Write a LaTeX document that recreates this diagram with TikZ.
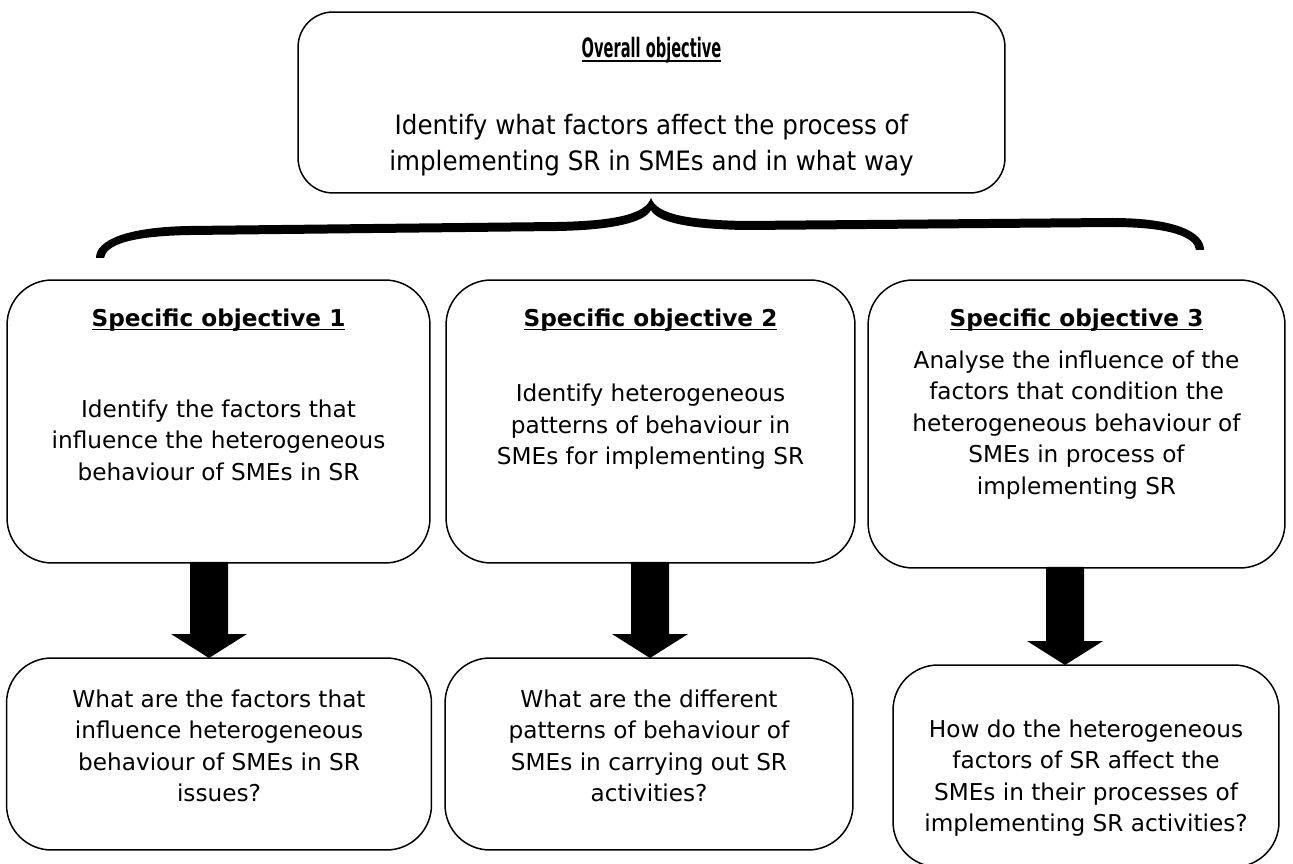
\documentclass[tikz,border=0pt]{standalone}
\usepackage{graphicx}
\usepackage{fontspec}
\setmainfont{DejaVu Sans}
\usetikzlibrary{calc}

% underline set close to the baseline, as in the headings
\newcommand{\headline}[1]{\setbox0\hbox{\bfseries #1}\rlap{\rule[-2.3pt]{\wd0}{0.85pt}}\box0}

% thick block arrow from the bottom of one box to the top of the next
% #1 = upper box, #2 = lower box, #3 = coordinate giving the arrow's x
\newcommand{\blockarrow}[3]{%
  \fill[black]
    ($(#1.south -| #3)+(-19,-1)$) --
    ($(#2.north -| #3)+(-19,-24)$) --
    ($(#2.north -| #3)+(-38,-24)$) --
    (#2.north -| #3) --
    ($(#2.north -| #3)+(38,-24)$) --
    ($(#2.north -| #3)+(19,-24)$) --
    ($(#1.south -| #3)+(19,-1)$) -- cycle;}

\begin{document}
\begin{tikzpicture}[x=0.02cm, y=-0.02cm,
  box/.style={draw=black, line width=0.85pt, fill=white, rounded corners=0.9cm,
              inner sep=0pt, outer sep=0pt},
  topbox/.style={box, rounded corners=0.7cm},
  txt/.style={align=center, inner sep=0pt,
              font=\fontsize{13.2}{17.9}\selectfont}]

\useasboundingbox (0,0) rectangle (1293,864);
\fill[white] (0,0) rectangle (1293,864);

% overall objective (set in a narrower, taller face)
\node[topbox, minimum width=14.14cm, minimum height=3.62cm] (top) at (651.5,102.5) {};
\node[txt] (toph) at (651.5,50) {\scalebox{0.63}[1.15]{\headline{Overall objective}}};
\node[txt] (topb) at (651.5,145) {\scalebox{1.06}[1.15]{\begin{tabular}{@{}c@{}}%
  \fontsize{13.2}{15.4}\selectfont Identify what factors affect the process of\\
  \fontsize{13.2}{15.4}\selectfont implementing SR in SMEs and in what way\end{tabular}}};

% brace joining the overall objective to the specific ones
\fill[black] (651,198) .. controls (645,215) and (612,221) .. (557,222)
  -- (190,226) .. controls (127,227) and (96,240) .. (96,258)
  -- (104,258) .. controls (106,245) and (130,236) .. (190,235)
  -- (557,231) .. controls (614,230) and (645,222) .. (651,210) -- cycle;
\fill[black] (651,198) .. controls (657,215) and (690,220) .. (745,221)
  -- (1112,218) .. controls (1175,218) and (1204,232) .. (1204,250)
  -- (1196,250) .. controls (1195,237) and (1170,227) .. (1112,227)
  -- (745,230) .. controls (688,229) and (657,222) .. (651,210) -- cycle;

% specific objectives
\node[box, minimum width=8.46cm, minimum height=5.66cm] (s1) at (218.5,421.5) {};
\node[txt] (s1h) at (218.5,320) {\headline{Specific objective 1}};
\node[txt] (s1b) at (218.5,440) {Identify the factors that\\influence the heterogeneous\\behaviour of SMEs in SR};

\node[box, minimum width=8.18cm, minimum height=5.66cm] (s2) at (650.5,421.5) {};
\node[txt] (s2h) at (650.5,320) {\headline{Specific objective 2}};
\node[txt] (s2b) at (650.5,427) {Identify heterogeneous\\patterns of behaviour in\\SMEs for implementing SR};

\node[box, minimum width=8.34cm, minimum height=5.76cm] (s3) at (1076.5,424) {};
\node[txt] (s3h) at (1076.5,320) {\headline{Specific objective 3}};
\node[txt] (s3b) at (1076.5,425) {Analyse the influence of the\\factors that condition the\\heterogeneous behaviour of\\SMEs in process of\\implementing SR};

% research questions
\node[box, minimum width=8.5cm, minimum height=3.84cm] (q1) at (219,754) {};
\node[txt] (q1b) at (219,746) {What are the factors that\\influence heterogeneous\\behaviour of SMEs in SR\\issues?};

\node[box, minimum width=8.16cm, minimum height=3.84cm] (q2) at (649,754) {};
\node[txt] (q2b) at (649,746) {What are the different\\patterns of behaviour of\\SMEs in carrying out SR\\activities?};

\node[box, minimum width=7.72cm, minimum height=4.04cm] (q3) at (1086,766) {};
\node[txt] (q3b) at (1086,778) {How do the heterogeneous\\factors of SR affect the\\SMEs in their processes of\\implementing SR activities?};

% arrows from objectives to questions
\coordinate (a1) at (209,0);
\coordinate (a2) at (650,0);
\coordinate (a3) at (1065,0);
\blockarrow{s1}{q1}{a1}
\blockarrow{s2}{q2}{a2}
\blockarrow{s3}{q3}{a3}

\end{tikzpicture}
\end{document}
